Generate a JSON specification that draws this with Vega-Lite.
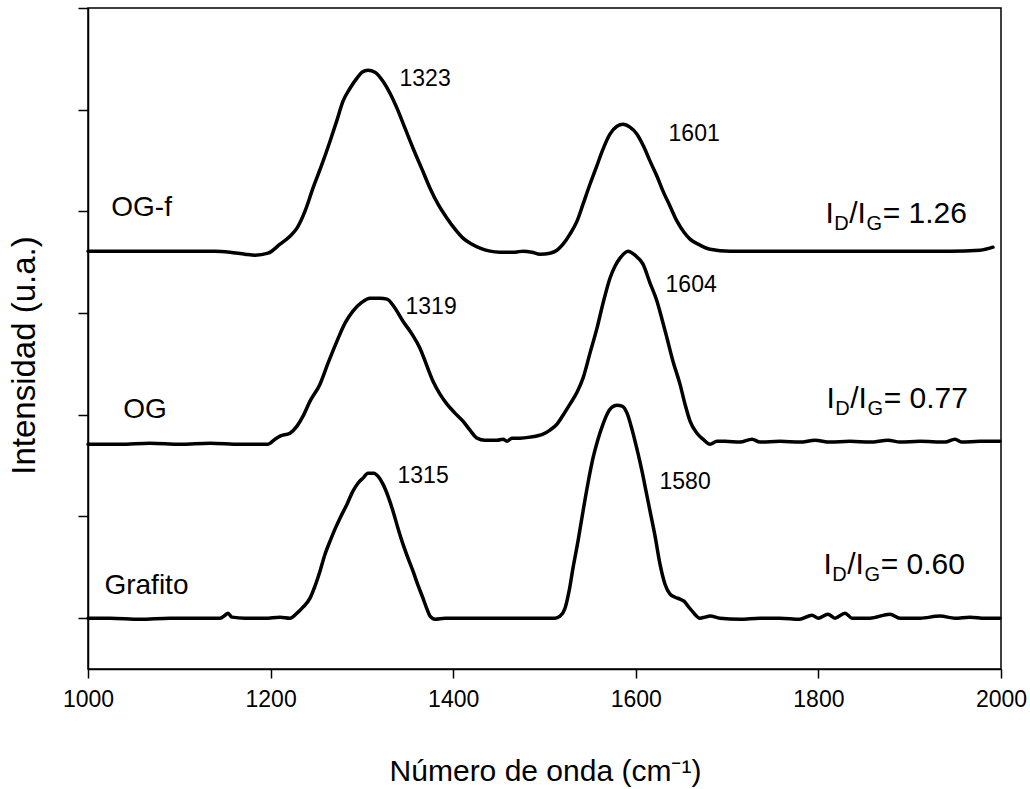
{
  "$schema": "https://vega.github.io/schema/vega-lite/v6.json",
  "width": 913,
  "height": 661,
  "autosize": "none",
  "padding": {"left": 88, "top": 8, "right": 29, "bottom": 120},
  "background": "white",
  "config": {
    "view": {"stroke": "black", "strokeWidth": 1.5},
    "font": "Liberation Sans",
    "axis": {
      "grid": false,
      "domainColor": "black",
      "domainWidth": 1.5,
      "tickColor": "black",
      "tickWidth": 1.5,
      "labelColor": "black",
      "labelFont": "Liberation Sans",
      "labelFontSize": 23,
      "labelFlush": false,
      "titleFont": "Liberation Sans",
      "titleFontWeight": "normal",
      "titleColor": "black"
    }
  },
  "datasets": {
    "spectra": [
      {"s":"OG-f","x":1000.0,"y":3.609},{"s":"OG-f","x":1046.0,"y":3.609},{"s":"OG-f","x":1100.8,"y":3.609},{"s":"OG-f","x":1139.1,"y":3.609},{"s":"OG-f","x":1155.5,"y":3.599},{"s":"OG-f","x":1172.0,"y":3.579},{"s":"OG-f","x":1182.9,"y":3.569},{"s":"OG-f","x":1197.2,"y":3.589},{"s":"OG-f","x":1210.3,"y":3.677},{"s":"OG-f","x":1221.2,"y":3.756},{"s":"OG-f","x":1228.9,"y":3.835},{"s":"OG-f","x":1237.7,"y":4.002},{"s":"OG-f","x":1246.4,"y":4.228},{"s":"OG-f","x":1256.3,"y":4.464},{"s":"OG-f","x":1265.1,"y":4.690},{"s":"OG-f","x":1272.7,"y":4.897},{"s":"OG-f","x":1279.3,"y":5.084},{"s":"OG-f","x":1287.0,"y":5.211},{"s":"OG-f","x":1294.6,"y":5.310},{"s":"OG-f","x":1300.1,"y":5.369},{"s":"OG-f","x":1306.7,"y":5.388},{"s":"OG-f","x":1314.3,"y":5.369},{"s":"OG-f","x":1323.1,"y":5.280},{"s":"OG-f","x":1330.8,"y":5.162},{"s":"OG-f","x":1338.4,"y":5.015},{"s":"OG-f","x":1347.2,"y":4.818},{"s":"OG-f","x":1356.0,"y":4.621},{"s":"OG-f","x":1365.8,"y":4.415},{"s":"OG-f","x":1374.6,"y":4.228},{"s":"OG-f","x":1383.4,"y":4.071},{"s":"OG-f","x":1393.2,"y":3.933},{"s":"OG-f","x":1402.0,"y":3.825},{"s":"OG-f","x":1410.7,"y":3.737},{"s":"OG-f","x":1420.6,"y":3.677},{"s":"OG-f","x":1429.4,"y":3.638},{"s":"OG-f","x":1440.3,"y":3.609},{"s":"OG-f","x":1451.3,"y":3.599},{"s":"OG-f","x":1467.7,"y":3.599},{"s":"OG-f","x":1476.4,"y":3.609},{"s":"OG-f","x":1486.3,"y":3.599},{"s":"OG-f","x":1495.1,"y":3.579},{"s":"OG-f","x":1506.0,"y":3.589},{"s":"OG-f","x":1513.7,"y":3.618},{"s":"OG-f","x":1520.3,"y":3.677},{"s":"OG-f","x":1527.9,"y":3.776},{"s":"OG-f","x":1535.6,"y":3.904},{"s":"OG-f","x":1542.2,"y":4.071},{"s":"OG-f","x":1549.8,"y":4.267},{"s":"OG-f","x":1556.4,"y":4.425},{"s":"OG-f","x":1564.1,"y":4.612},{"s":"OG-f","x":1571.7,"y":4.759},{"s":"OG-f","x":1579.4,"y":4.838},{"s":"OG-f","x":1586.0,"y":4.857},{"s":"OG-f","x":1593.6,"y":4.828},{"s":"OG-f","x":1601.3,"y":4.759},{"s":"OG-f","x":1609.0,"y":4.631},{"s":"OG-f","x":1615.6,"y":4.494},{"s":"OG-f","x":1623.2,"y":4.346},{"s":"OG-f","x":1629.8,"y":4.199},{"s":"OG-f","x":1637.5,"y":4.051},{"s":"OG-f","x":1645.1,"y":3.904},{"s":"OG-f","x":1652.8,"y":3.795},{"s":"OG-f","x":1659.4,"y":3.727},{"s":"OG-f","x":1670.3,"y":3.668},{"s":"OG-f","x":1681.3,"y":3.628},{"s":"OG-f","x":1703.2,"y":3.609},{"s":"OG-f","x":1757.9,"y":3.609},{"s":"OG-f","x":1834.6,"y":3.609},{"s":"OG-f","x":1889.4,"y":3.609},{"s":"OG-f","x":1944.1,"y":3.609},{"s":"OG-f","x":1977.0,"y":3.618},{"s":"OG-f","x":1991.2,"y":3.648},

      {"s":"OG","x":1000.0,"y":1.711},{"s":"OG","x":1035.0,"y":1.711},{"s":"OG","x":1067.9,"y":1.721},{"s":"OG","x":1100.8,"y":1.711},{"s":"OG","x":1133.6,"y":1.721},{"s":"OG","x":1166.5,"y":1.711},{"s":"OG","x":1188.4,"y":1.711},{"s":"OG","x":1197.2,"y":1.711},{"s":"OG","x":1204.8,"y":1.760},{"s":"OG","x":1210.3,"y":1.790},{"s":"OG","x":1221.2,"y":1.819},{"s":"OG","x":1228.9,"y":1.888},{"s":"OG","x":1235.5,"y":1.986},{"s":"OG","x":1243.2,"y":2.134},{"s":"OG","x":1254.1,"y":2.301},{"s":"OG","x":1262.9,"y":2.507},{"s":"OG","x":1272.7,"y":2.724},{"s":"OG","x":1281.5,"y":2.901},{"s":"OG","x":1290.2,"y":3.019},{"s":"OG","x":1300.1,"y":3.107},{"s":"OG","x":1308.9,"y":3.147},{"s":"OG","x":1319.8,"y":3.147},{"s":"OG","x":1327.5,"y":3.137},{"s":"OG","x":1336.3,"y":3.048},{"s":"OG","x":1345.0,"y":2.920},{"s":"OG","x":1354.9,"y":2.793},{"s":"OG","x":1363.6,"y":2.655},{"s":"OG","x":1371.3,"y":2.478},{"s":"OG","x":1377.9,"y":2.330},{"s":"OG","x":1385.5,"y":2.203},{"s":"OG","x":1393.2,"y":2.104},{"s":"OG","x":1402.0,"y":2.016},{"s":"OG","x":1410.7,"y":1.937},{"s":"OG","x":1418.4,"y":1.849},{"s":"OG","x":1426.1,"y":1.770},{"s":"OG","x":1434.8,"y":1.750},{"s":"OG","x":1448.0,"y":1.750},{"s":"OG","x":1454.5,"y":1.760},{"s":"OG","x":1458.9,"y":1.740},{"s":"OG","x":1464.4,"y":1.770},{"s":"OG","x":1473.2,"y":1.770},{"s":"OG","x":1484.1,"y":1.780},{"s":"OG","x":1498.4,"y":1.809},{"s":"OG","x":1506.0,"y":1.849},{"s":"OG","x":1513.7,"y":1.908},{"s":"OG","x":1520.3,"y":1.996},{"s":"OG","x":1527.9,"y":2.104},{"s":"OG","x":1535.6,"y":2.222},{"s":"OG","x":1542.2,"y":2.360},{"s":"OG","x":1549.8,"y":2.606},{"s":"OG","x":1557.5,"y":2.852},{"s":"OG","x":1564.1,"y":3.097},{"s":"OG","x":1571.7,"y":3.343},{"s":"OG","x":1577.2,"y":3.461},{"s":"OG","x":1582.7,"y":3.540},{"s":"OG","x":1591.5,"y":3.609},{"s":"OG","x":1599.1,"y":3.569},{"s":"OG","x":1607.9,"y":3.481},{"s":"OG","x":1615.6,"y":3.294},{"s":"OG","x":1623.2,"y":3.117},{"s":"OG","x":1628.7,"y":2.940},{"s":"OG","x":1634.2,"y":2.753},{"s":"OG","x":1640.7,"y":2.527},{"s":"OG","x":1648.4,"y":2.301},{"s":"OG","x":1653.9,"y":2.104},{"s":"OG","x":1659.4,"y":1.937},{"s":"OG","x":1667.0,"y":1.819},{"s":"OG","x":1673.6,"y":1.760},{"s":"OG","x":1681.3,"y":1.711},{"s":"OG","x":1688.9,"y":1.740},{"s":"OG","x":1697.7,"y":1.740},{"s":"OG","x":1714.1,"y":1.731},{"s":"OG","x":1727.3,"y":1.760},{"s":"OG","x":1736.0,"y":1.731},{"s":"OG","x":1757.9,"y":1.740},{"s":"OG","x":1779.8,"y":1.731},{"s":"OG","x":1796.3,"y":1.750},{"s":"OG","x":1812.7,"y":1.731},{"s":"OG","x":1834.6,"y":1.740},{"s":"OG","x":1856.5,"y":1.731},{"s":"OG","x":1876.2,"y":1.750},{"s":"OG","x":1889.4,"y":1.731},{"s":"OG","x":1911.3,"y":1.740},{"s":"OG","x":1938.7,"y":1.731},{"s":"OG","x":1949.6,"y":1.760},{"s":"OG","x":1957.3,"y":1.731},{"s":"OG","x":1977.0,"y":1.740},{"s":"OG","x":1998.9,"y":1.740},

      {"s":"Grafito","x":1000.0,"y":0.0},{"s":"Grafito","x":1024.1,"y":0.0},{"s":"Grafito","x":1057.0,"y":-0.010},{"s":"Grafito","x":1089.8,"y":0.0},{"s":"Grafito","x":1122.7,"y":0.0},{"s":"Grafito","x":1144.6,"y":0.0},{"s":"Grafito","x":1150.1,"y":0.029},{"s":"Grafito","x":1153.3,"y":0.049},{"s":"Grafito","x":1157.7,"y":0.010},{"s":"Grafito","x":1172.0,"y":0.0},{"s":"Grafito","x":1193.9,"y":0.0},{"s":"Grafito","x":1210.3,"y":0.010},{"s":"Grafito","x":1221.2,"y":0.0},{"s":"Grafito","x":1228.9,"y":0.049},{"s":"Grafito","x":1235.5,"y":0.108},{"s":"Grafito","x":1243.2,"y":0.197},{"s":"Grafito","x":1248.6,"y":0.315},{"s":"Grafito","x":1254.1,"y":0.462},{"s":"Grafito","x":1259.6,"y":0.629},{"s":"Grafito","x":1265.1,"y":0.757},{"s":"Grafito","x":1270.5,"y":0.875},{"s":"Grafito","x":1276.0,"y":0.983},{"s":"Grafito","x":1283.7,"y":1.121},{"s":"Grafito","x":1290.2,"y":1.249},{"s":"Grafito","x":1295.7,"y":1.327},{"s":"Grafito","x":1301.2,"y":1.377},{"s":"Grafito","x":1306.7,"y":1.426},{"s":"Grafito","x":1313.2,"y":1.426},{"s":"Grafito","x":1317.6,"y":1.396},{"s":"Grafito","x":1323.1,"y":1.318},{"s":"Grafito","x":1328.6,"y":1.200},{"s":"Grafito","x":1334.1,"y":1.052},{"s":"Grafito","x":1339.5,"y":0.885},{"s":"Grafito","x":1345.0,"y":0.728},{"s":"Grafito","x":1350.5,"y":0.590},{"s":"Grafito","x":1356.0,"y":0.462},{"s":"Grafito","x":1361.4,"y":0.324},{"s":"Grafito","x":1366.9,"y":0.197},{"s":"Grafito","x":1371.3,"y":0.088},{"s":"Grafito","x":1374.6,"y":0.020},{"s":"Grafito","x":1380.1,"y":-0.010},{"s":"Grafito","x":1391.0,"y":0.0},{"s":"Grafito","x":1407.4,"y":0.0},{"s":"Grafito","x":1429.4,"y":0.0},{"s":"Grafito","x":1451.3,"y":0.0},{"s":"Grafito","x":1473.2,"y":0.0},{"s":"Grafito","x":1495.1,"y":0.0},{"s":"Grafito","x":1511.5,"y":0.0},{"s":"Grafito","x":1517.0,"y":0.020},{"s":"Grafito","x":1522.5,"y":0.098},{"s":"Grafito","x":1526.9,"y":0.265},{"s":"Grafito","x":1531.2,"y":0.492},{"s":"Grafito","x":1536.7,"y":0.757},{"s":"Grafito","x":1542.2,"y":1.052},{"s":"Grafito","x":1547.6,"y":1.327},{"s":"Grafito","x":1553.1,"y":1.573},{"s":"Grafito","x":1558.6,"y":1.760},{"s":"Grafito","x":1564.1,"y":1.908},{"s":"Grafito","x":1568.5,"y":2.006},{"s":"Grafito","x":1573.9,"y":2.075},{"s":"Grafito","x":1579.4,"y":2.094},{"s":"Grafito","x":1584.9,"y":2.085},{"s":"Grafito","x":1590.4,"y":2.016},{"s":"Grafito","x":1595.8,"y":1.858},{"s":"Grafito","x":1601.3,"y":1.662},{"s":"Grafito","x":1606.8,"y":1.445},{"s":"Grafito","x":1611.2,"y":1.249},{"s":"Grafito","x":1615.6,"y":1.052},{"s":"Grafito","x":1621.1,"y":0.806},{"s":"Grafito","x":1626.5,"y":0.531},{"s":"Grafito","x":1632.0,"y":0.334},{"s":"Grafito","x":1637.5,"y":0.236},{"s":"Grafito","x":1643.0,"y":0.206},{"s":"Grafito","x":1648.4,"y":0.187},{"s":"Grafito","x":1652.8,"y":0.167},{"s":"Grafito","x":1657.2,"y":0.118},{"s":"Grafito","x":1662.7,"y":0.059},{"s":"Grafito","x":1670.3,"y":0.0},{"s":"Grafito","x":1675.8,"y":0.010},{"s":"Grafito","x":1681.3,"y":0.020},{"s":"Grafito","x":1692.2,"y":0.0},{"s":"Grafito","x":1714.1,"y":-0.010},{"s":"Grafito","x":1736.0,"y":0.0},{"s":"Grafito","x":1757.9,"y":0.0},{"s":"Grafito","x":1779.8,"y":-0.010},{"s":"Grafito","x":1793.0,"y":0.029},{"s":"Grafito","x":1799.6,"y":0.0},{"s":"Grafito","x":1810.5,"y":0.039},{"s":"Grafito","x":1818.2,"y":0.0},{"s":"Grafito","x":1829.1,"y":0.049},{"s":"Grafito","x":1836.8,"y":0.0},{"s":"Grafito","x":1856.5,"y":0.0},{"s":"Grafito","x":1878.4,"y":0.039},{"s":"Grafito","x":1889.4,"y":0.0},{"s":"Grafito","x":1911.3,"y":0.0},{"s":"Grafito","x":1933.2,"y":0.020},{"s":"Grafito","x":1949.6,"y":0.0},{"s":"Grafito","x":1966.0,"y":0.010},{"s":"Grafito","x":1982.5,"y":0.0},{"s":"Grafito","x":1998.9,"y":0.0}
    ],
    "names": [
      {"x":1025.5,"y":3.953,"t":"OG-f"},
      {"x":1038.5,"y":1.967,"t":"OG"},
      {"x":1018.0,"y":0.236,"t":"Grafito"}
    ],
    "peaks": [
      {"x":1341.2,"y":5.231,"t":"1323"},
      {"x":1635.9,"y":4.690,"t":"1601"},
      {"x":1347.8,"y":2.989,"t":"1319"},
      {"x":1632.6,"y":3.206,"t":"1604"},
      {"x":1339.0,"y":1.327,"t":"1315"},
      {"x":1626.0,"y":1.268,"t":"1580"}
    ],
    "ratios": [
      {"x":1807.8,"y":3.884,"t":"I","k":"m"},
      {"x":1817.3,"y":3.884,"t":"D","k":"s"},
      {"x":1833.7,"y":3.884,"t":"/I","k":"m"},
      {"x":1852.6,"y":3.884,"t":"G","k":"s"},
      {"x":1870.4,"y":3.884,"t":"= 1.26","k":"m"},
      {"x":1808.9,"y":2.065,"t":"I","k":"m"},
      {"x":1818.4,"y":2.065,"t":"D","k":"s"},
      {"x":1834.8,"y":2.065,"t":"/I","k":"m"},
      {"x":1853.7,"y":2.065,"t":"G","k":"s"},
      {"x":1871.5,"y":2.065,"t":"= 0.77","k":"m"},
      {"x":1805.6,"y":0.433,"t":"I","k":"m"},
      {"x":1815.1,"y":0.433,"t":"D","k":"s"},
      {"x":1831.5,"y":0.433,"t":"/I","k":"m"},
      {"x":1850.4,"y":0.433,"t":"G","k":"s"},
      {"x":1868.2,"y":0.433,"t":"= 0.60","k":"m"}
    ]
  },
  "layer": [
    {
      "data": {"name": "spectra"},
      "mark": {"type": "line", "color": "black", "strokeWidth": 3.5, "strokeJoin": "round", "strokeCap": "round", "interpolate": "monotone"},
      "encoding": {
        "x": {"field": "x", "type": "quantitative",
              "scale": {"domain": [1000, 2000], "nice": false, "zero": false},
              "axis": {"values": [1000, 1200, 1400, 1600, 1800, 2000], "format": "d", "tickSize": 9, "labelPadding": 10,
                       "title": "Número de onda (cm⁻¹)", "titleFontSize": 30, "titleX": 457, "titleY": 111, "titleAlign": "center", "titleBaseline": "alphabetic"}},
        "y": {"field": "y", "type": "quantitative",
              "scale": {"domain": [-0.5, 6], "nice": false, "zero": false},
              "axis": {"values": [0, 1, 2, 3, 4, 5, 6], "labels": false, "tickSize": 10,
                       "title": "Intensidad (u.a.)", "titleFontSize": 33, "titleX": -54, "titleY": 347, "titleAlign": "center", "titleBaseline": "alphabetic", "titleAngle": -90}},
        "detail": {"field": "s"},
        "order": {"field": "x", "type": "quantitative"}
      }
    },
    {
      "data": {"name": "names"},
      "mark": {"type": "text", "align": "left", "baseline": "alphabetic", "fontSize": 28, "font": "Liberation Sans", "color": "black"},
      "encoding": {
        "x": {"field": "x", "type": "quantitative"},
        "y": {"field": "y", "type": "quantitative"},
        "text": {"field": "t"}
      }
    },
    {
      "data": {"name": "peaks"},
      "mark": {"type": "text", "align": "left", "baseline": "alphabetic", "fontSize": 23, "font": "Liberation Sans", "color": "black"},
      "encoding": {
        "x": {"field": "x", "type": "quantitative"},
        "y": {"field": "y", "type": "quantitative"},
        "text": {"field": "t"}
      }
    },
    {
      "data": {"name": "ratios"},
      "transform": [{"filter": "datum.k === 'm'"}],
      "mark": {"type": "text", "align": "left", "baseline": "alphabetic", "fontSize": 30, "font": "Liberation Sans", "color": "black"},
      "encoding": {
        "x": {"field": "x", "type": "quantitative"},
        "y": {"field": "y", "type": "quantitative"},
        "text": {"field": "t"}
      }
    },
    {
      "data": {"name": "ratios"},
      "transform": [{"filter": "datum.k === 's'"}],
      "mark": {"type": "text", "align": "left", "baseline": "alphabetic", "dy": 7, "fontSize": 20, "font": "Liberation Sans", "color": "black"},
      "encoding": {
        "x": {"field": "x", "type": "quantitative"},
        "y": {"field": "y", "type": "quantitative"},
        "text": {"field": "t"}
      }
    }
  ]
}
